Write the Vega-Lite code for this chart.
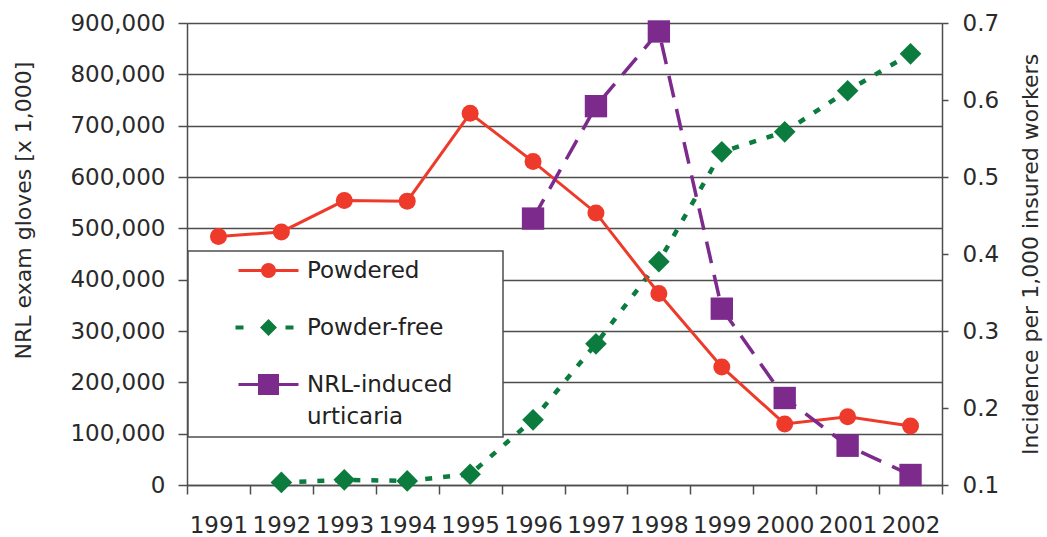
{
  "$schema": "https://vega.github.io/schema/vega-lite/v6.json",
  "width": 755,
  "height": 462,
  "autosize": {"type": "none"},
  "padding": {"left": 187, "top": 23, "right": 105, "bottom": 52},
  "background": "white",
  "config": {
    "view": {"stroke": null},
    "font": "DejaVu Sans",
    "axis": {
      "labelFont": "DejaVu Sans",
      "titleFont": "DejaVu Sans",
      "labelColor": "#2a2a2a",
      "titleColor": "#2a2a2a",
      "titleFontWeight": "normal",
      "domainColor": "#4d4d4d",
      "tickColor": "#4d4d4d",
      "gridColor": "#4d4d4d",
      "domainWidth": 1.5,
      "tickWidth": 1.5,
      "gridWidth": 1.5,
      "gridOpacity": 1,
      "labelFontSize": 23,
      "titleFontSize": 22
    }
  },
  "data": {
    "values": [
      {"year": "1991", "series": "Powdered", "value": 484000},
      {"year": "1992", "series": "Powdered", "value": 493000},
      {"year": "1993", "series": "Powdered", "value": 554000},
      {"year": "1994", "series": "Powdered", "value": 553000},
      {"year": "1995", "series": "Powdered", "value": 724000},
      {"year": "1996", "series": "Powdered", "value": 630000},
      {"year": "1997", "series": "Powdered", "value": 530000},
      {"year": "1998", "series": "Powdered", "value": 373000},
      {"year": "1999", "series": "Powdered", "value": 230000},
      {"year": "2000", "series": "Powdered", "value": 119000},
      {"year": "2001", "series": "Powdered", "value": 133000},
      {"year": "2002", "series": "Powdered", "value": 115000},
      {"year": "1992", "series": "Powder-free", "value": 5000},
      {"year": "1993", "series": "Powder-free", "value": 10000},
      {"year": "1994", "series": "Powder-free", "value": 8000},
      {"year": "1995", "series": "Powder-free", "value": 21000},
      {"year": "1996", "series": "Powder-free", "value": 127000},
      {"year": "1997", "series": "Powder-free", "value": 275000},
      {"year": "1998", "series": "Powder-free", "value": 435000},
      {"year": "1999", "series": "Powder-free", "value": 649000},
      {"year": "2000", "series": "Powder-free", "value": 688000},
      {"year": "2001", "series": "Powder-free", "value": 768000},
      {"year": "2002", "series": "Powder-free", "value": 840000},
      {"year": "1996", "series": "NRL-induced urticaria", "value": 0.446},
      {"year": "1997", "series": "NRL-induced urticaria", "value": 0.592},
      {"year": "1998", "series": "NRL-induced urticaria", "value": 0.689},
      {"year": "1999", "series": "NRL-induced urticaria", "value": 0.329},
      {"year": "2000", "series": "NRL-induced urticaria", "value": 0.213},
      {"year": "2001", "series": "NRL-induced urticaria", "value": 0.151},
      {"year": "2002", "series": "NRL-induced urticaria", "value": 0.113}
    ]
  },
  "encoding": {
    "x": {
      "field": "year",
      "type": "ordinal",
      "bandPosition": 0.5,
      "scale": {"type": "band", "paddingInner": 0, "paddingOuter": 0},
      "axis": {
        "title": null,
        "labelAngle": 0,
        "tickBand": "extent",
        "tickSize": 9,
        "labelPadding": 20,
        "grid": false
      }
    },
    "color": {
      "field": "series",
      "type": "nominal",
      "scale": {
        "domain": ["Powdered", "Powder-free", "NRL-induced urticaria"],
        "range": ["#EE3A2B", "#0B7B3E", "#7C2B8D"]
      },
      "legend": {
        "orient": "none",
        "legendX": 1,
        "legendY": 228,
        "title": null,
        "padding": 8,
        "fillColor": "white",
        "strokeColor": "#4d4d4d",
        "symbolSize": 100,
        "symbolStrokeWidth": 0,
        "symbolOffset": 61,
        "labelFont": "DejaVu Sans",
        "labelFontSize": 23,
        "labelColor": "#222222",
        "labelOffset": 27,
        "labelLimit": 400,
        "rowPadding": 33,
        "labelExpr": "datum.label == 'NRL-induced urticaria' ? ['NRL-induced', 'urticaria'] : datum.label",
        "encode": {
          "legend": {
            "update": {"strokeWidth": {"value": 1.5}}
          },
          "symbols": {
            "update": {
              "shape": {"signal": "datum.value === 'Powdered' ? 'M-14.2,0M45.2,0M-6,-0.3H-1.4V0.3H-6ZM1.4,-0.3H6V0.3H1.4ZM-1.5,0A1.5,1.5,0,1,1,1.5,0A1.5,1.5,0,1,1,-1.5,0Z' : datum.value === 'Powder-free' ? 'M-14.2,0M45.2,0M-6.6,-0.4H-5V0.4H-6.6ZM3.4,-0.4H5V0.4H3.4ZM0,-1.7L1.7,0L0,1.7L-1.7,0Z' : 'M-14.2,0M45.2,0M-6,-0.3H-2.1V0.3H-6ZM2.1,-0.3H6V0.3H2.1ZM-2.1,-2.1H2.1V2.1H-2.1Z'"},
              "fill": {"signal": "datum.value === 'Powdered' ? '#EE3A2B' : datum.value === 'Powder-free' ? '#0B7B3E' : '#7C2B8D'"},
              "stroke": {"value": "transparent"},
              "opacity": {"value": 1},
              "fillOpacity": {"value": 1}
            }
          },
          "labels": {
            "update": {"lineHeight": {"value": 32}}
          }
        }
      }
    }
  },
  "layer": [
    {
      "encoding": {
        "y": {
          "field": "value",
          "type": "quantitative",
          "scale": {"domain": [0, 900000], "nice": false, "zero": true},
          "axis": {
            "title": "NRL exam gloves [x 1,000]",
            "values": [0, 100000, 200000, 300000, 400000, 500000, 600000, 700000, 800000, 900000],
            "format": ",d",
            "grid": true,
            "tickSize": 9,
            "labelPadding": 13,
            "titleAngle": 270,
            "titleX": -164,
            "titleY": 187,
            "titleBaseline": "middle",
            "titleAlign": "center"
          }
        }
      },
      "layer": [
        {
          "transform": [{"filter": "datum.series === 'Powder-free'"}],
          "mark": {"type": "line", "strokeWidth": 4.5, "strokeDash": [7, 11]}
        },
        {
          "transform": [{"filter": "datum.series === 'Powder-free'"}],
          "mark": {"type": "point", "shape": "diamond", "filled": true, "size": 470, "opacity": 1, "strokeWidth": 0}
        },
        {
          "transform": [{"filter": "datum.series === 'Powdered'"}],
          "mark": {"type": "line", "strokeWidth": 3}
        },
        {
          "transform": [{"filter": "datum.series === 'Powdered'"}],
          "mark": {"type": "point", "shape": "circle", "filled": true, "size": 289, "opacity": 1, "strokeWidth": 0}
        }
      ]
    },
    {
      "transform": [{"filter": "datum.series === 'NRL-induced urticaria'"}],
      "encoding": {
        "y": {
          "field": "value",
          "type": "quantitative",
          "scale": {"domain": [0.1, 0.7], "nice": false, "zero": false},
          "axis": {
            "orient": "right",
            "title": "Incidence per 1,000 insured workers",
            "values": [0.1, 0.2, 0.3, 0.4, 0.5, 0.6, 0.7],
            "format": ".1f",
            "grid": false,
            "tickSize": 6,
            "labelPadding": 14,
            "titleAngle": 270,
            "titleX": 88,
            "titleY": 231,
            "titleBaseline": "middle",
            "titleAlign": "center"
          }
        }
      },
      "layer": [
        {"mark": {"type": "line", "strokeWidth": 3.5, "strokeDash": [22, 12]}},
        {"mark": {"type": "point", "shape": "square", "filled": true, "size": 500, "opacity": 1, "strokeWidth": 0}}
      ]
    }
  ],
  "resolve": {"scale": {"y": "independent"}}
}
